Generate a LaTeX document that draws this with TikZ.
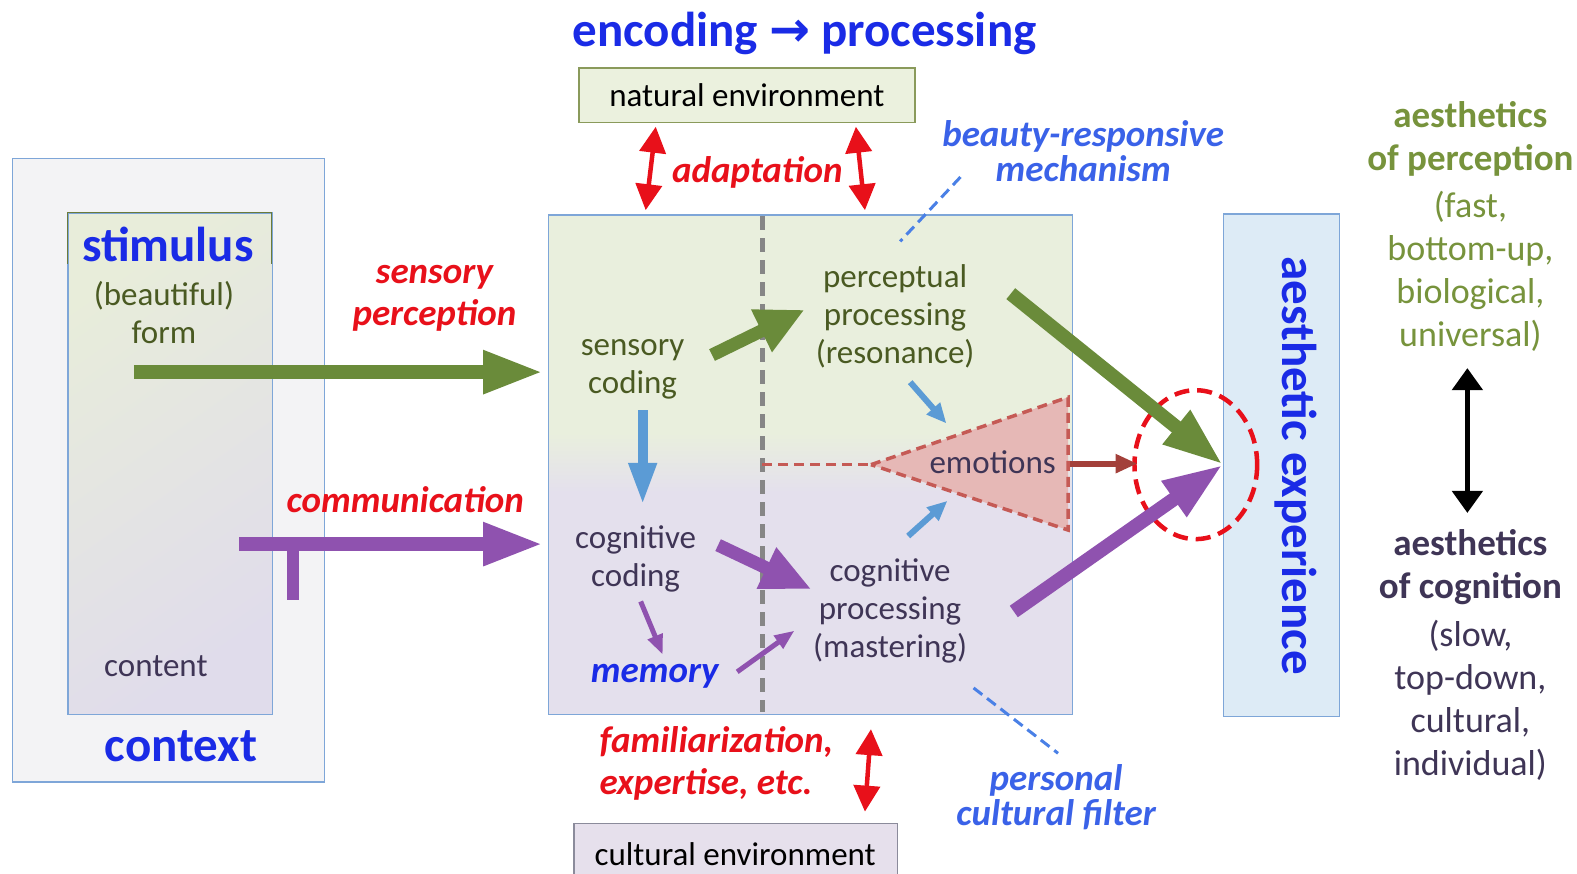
\documentclass[tikz,border=0pt]{standalone}
\usepackage{fontspec}
\setmainfont{Carlito}
\newfontfamily\arrowfont{DejaVu Sans}
\usetikzlibrary{arrows.meta}
\definecolor{ctxgray}{HTML}{F3F3F5}
\definecolor{boxblue}{HTML}{7EA6D8}
\definecolor{stimgreen}{HTML}{E8EDDA}
\definecolor{stimpurple}{HTML}{E0DCEB}
\definecolor{mgreen}{HTML}{E9EFDD}
\definecolor{mpurple}{HTML}{E4E0ED}
\definecolor{aeblue}{HTML}{DDEBF6}
\definecolor{headblue}{HTML}{1A2BE6}
\definecolor{lblue}{HTML}{3A62E8}
\definecolor{redc}{HTML}{E8101A}
\definecolor{arrgreen}{HTML}{6A8B3A}
\definecolor{arrpurple}{HTML}{8F52AF}
\definecolor{arrblue}{HTML}{5B9BD5}
\definecolor{brownr}{HTML}{A3403A}
\definecolor{txtgreen}{HTML}{4A5A22}
\definecolor{txtpurple}{HTML}{3F3556}
\definecolor{rgreen}{HTML}{77933C}
\definecolor{trifill}{HTML}{E6B8B6}
\definecolor{tridash}{HTML}{C55A55}
\definecolor{envgreenfill}{HTML}{EBF1DE}
\definecolor{envgreenline}{HTML}{8A9A5B}
\definecolor{envpurplefill}{HTML}{E6E0EC}
\definecolor{envpurpleline}{HTML}{8B8B9B}
\definecolor{stimolive}{HTML}{6B7B3A}
\definecolor{pointerblue}{HTML}{4A80E6}
\begin{document}
\begin{tikzpicture}[x=1.0057pt,y=-1.0057pt,
  tx/.style={font=\fontsize{33}{38}\selectfont, align=center, inner sep=0pt},
  lbl/.style={font=\fontsize{37}{42}\selectfont\bfseries\itshape, align=center, inner sep=0pt},
  big/.style={font=\fontsize{49}{52}\selectfont\bfseries, inner sep=0pt, text=headblue},
  side/.style={font=\fontsize{36}{43}\selectfont, align=center, inner sep=0pt},
  sideb/.style={font=\fontsize{37}{43}\selectfont\bfseries, align=center, inner sep=0pt},
  boxnode/.style={anchor=north west, inner sep=0pt, line width=1.3pt},
  fatG/.style={draw=arrgreen, line width=14pt, -{Triangle[length=60pt,width=40pt]}},
  fatP/.style={draw=arrpurple, line width=14pt, -{Triangle[length=60pt,width=40pt]}},
  midG/.style={draw=arrgreen, line width=13pt, -{Triangle[length=48pt,width=44pt]}},
  midP/.style={draw=arrpurple, line width=13pt, -{Triangle[length=50pt,width=42pt]}},
  smallB/.style={draw=arrblue, line width=6pt, -{Triangle[length=20pt,width=17pt]}},
  smallP/.style={draw=arrpurple, line width=5pt, -{Triangle[length=20pt,width=15pt]}},
  redarr/.style={draw=redc, line width=4.5pt, {Triangle[length=26pt,width=26pt]}-{Triangle[length=26pt,width=26pt]}},
  pointer/.style={draw=pointerblue, line width=3pt, dash pattern=on 11pt off 6pt}
]
\useasboundingbox (0,0) rectangle (1568,869);

% context box
\node[boxnode, draw=boxblue, fill=ctxgray, minimum width=311.8pt, minimum height=623.5pt] (context) at (12,157) {};
% stimulus box
\shade[top color=stimgreen, bottom color=stimpurple, shading angle=35] (67,211) rectangle (270,710);
\node[boxnode, draw=boxblue, minimum width=204.2pt, minimum height=501.8pt] (stim) at (67,211) {};
\draw[stimolive, line width=1.3pt] (67,262) -- (67,211) -- (270,211) -- (270,262);

\node[big] (stimulus) at (167,243) {stimulus};
\node[tx, text=txtgreen] (form) at (163,311) {(beautiful)\\form};
\node[tx, text=txtpurple] (content) at (155,662) {content};
\node[big] (contextlbl) at (180,742) {context};

% main box
\fill[mgreen] (545,213) rectangle (1066,430);
\shade[top color=mgreen, bottom color=mpurple] (545,430) rectangle (1066,490);
\fill[mpurple] (545,490) rectangle (1066,710);
\node[boxnode, draw=boxblue, minimum width=524pt, minimum height=499.8pt] (main) at (545,213) {};
\coordinate (divtop) at (758,215);
\coordinate (divbot) at (758,708);
\draw[draw=gray!95, line width=5pt, dash pattern=on 14pt off 8pt] (divtop) -- (divbot);

% emotions triangle
\coordinate (tritip) at (866,462);
\coordinate (tritop) at (1062,395);
\coordinate (tribot) at (1062,527);
\coordinate (trileft) at (758,462);
\filldraw[fill=trifill, draw=tridash, line width=3.5pt, dash pattern=on 10pt off 6pt] (tritip) -- (tritop) -- (tribot) -- cycle;
\draw[draw=tridash, line width=3.5pt, dash pattern=on 10pt off 6pt] (trileft) -- (tritip);
\node[tx, text=txtpurple] (emotions) at (987,460) {emotions};

\node[tx, text=txtgreen] (sensory) at (629,367) {sensory\\coding};
\node[tx, text=txtgreen] (percept) at (890,315) {perceptual\\processing\\(resonance)};
\node[tx, text=txtpurple] (cogcod) at (632,556) {cognitive\\coding};
\node[tx, text=txtpurple] (cogproc) at (885,607) {cognitive\\processing\\(mastering)};
\node[lbl, text=headblue] (memory) at (651,672) {memory};

% aesthetic experience
\node[boxnode, draw=boxblue, fill=aeblue, minimum width=115.7pt, minimum height=502.9pt] (ae) at (1216,212) {};
\node[big, rotate=-90] (aelbl) at (1288,463) {aesthetic experience};

% circle
\coordinate (circ) at (1189,462);
\draw[redc, line width=4.5pt, dash pattern=on 15pt off 8pt] (circ) ellipse [x radius=61, y radius=74];

% headline and environments
\node[big] (head) at (800,33) {encoding {\arrowfont\bfseries →} processing};
\node[boxnode, draw=envgreenline, fill=envgreenfill, minimum width=335.9pt, minimum height=54.3pt] (natenv) at (575,67) {};
\node[tx, text=black] (natlbl) at (natenv.center) {natural environment};
\node[boxnode, draw=envpurpleline, fill=envpurplefill, minimum width=323.8pt, minimum height=70pt] (culenv) at (570,818) {};
\node[tx, text=black] (cullbl) at (731,849) {cultural environment};

\node[lbl, text=redc] (adapt) at (753,171) {adaptation};
\node[lbl, text=redc] (sensperc) at (432,297) {sensory\\perception};
\node[lbl, text=redc] (comm) at (403,497) {communication};
\node[lbl, text=redc, align=left, anchor=north west] (famil) at (596,722) {familiarization,\\expertise, etc.};
\node[lbl, text=lblue, font=\fontsize{37}{35}\selectfont\bfseries\itshape] (beauty) at (1077,150) {beauty-responsive\\mechanism};
\node[lbl, text=lblue, font=\fontsize{37}{35}\selectfont\bfseries\itshape] (personal) at (1050,793) {personal\\cultural filter};

% right side
\node[sideb, text=rgreen] (aperc) at (1462,138) {aesthetics\\of perception};
\node[side, text=rgreen] (fast) at (1462,270) {(fast,\\bottom-up,\\biological,\\universal)};
\node[sideb, text=txtpurple] (acog) at (1462,564) {aesthetics\\of cognition};
\node[side, text=txtpurple] (slow) at (1462,696) {(slow,\\top-down,\\cultural,\\individual)};

% coordinates for connectors
\coordinate (gA) at (133,370); \coordinate (gB) at (540,370);
\coordinate (pA) at (238,541); \coordinate (pB) at (540,541);
\coordinate (tA) at (291,541); \coordinate (tB) at (291,597);
\coordinate (s1) at (708,353); \coordinate (s2) at (800,308);
\coordinate (b1) at (639,408); \coordinate (b2) at (639,502);
\coordinate (b3) at (905,380); \coordinate (b4) at (941,421);
\coordinate (b5) at (903,533); \coordinate (b6) at (942,498);
\coordinate (c1) at (714,542); \coordinate (c2) at (807,586);
\coordinate (m1) at (637,598); \coordinate (m2) at (659,651);
\coordinate (m3) at (733,668); \coordinate (m4) at (790,627);
\coordinate (G1) at (1005,292); \coordinate (G2) at (1216,462);
\coordinate (P1) at (1008,608); \coordinate (P2) at (1216,462);
\coordinate (e1) at (1064,461); \coordinate (e2) at (1131,461);
\coordinate (r1) at (652,126); \coordinate (r2) at (642,209);
\coordinate (r3) at (851,126); \coordinate (r4) at (860,209);
\coordinate (r5) at (866,725); \coordinate (r6) at (860,807);
\coordinate (k1) at (1459,366); \coordinate (k2) at (1459,510);
\coordinate (d1) at (955,176); \coordinate (d2) at (895,240);
\coordinate (d3) at (968,684); \coordinate (d4) at (1052,749);

\draw[fatG] (gA) -- (gB);
\draw[fatP] (pA) -- (pB);
\draw[draw=arrpurple, line width=12pt] (tA) -- (tB);
\draw[midG] (s1) -- (s2);
\draw[draw=arrblue, line width=10pt, -{Triangle[length=42pt,width=26pt]}] (b1) -- (b2);
\draw[smallB] (b3) -- (b4);
\draw[smallB] (b5) -- (b6);
\draw[midP] (c1) -- (c2);
\draw[smallP] (m1) -- (m2);
\draw[smallP] (m3) -- (m4);
\draw[fatG] (G1) -- (G2);
\draw[fatP] (P1) -- (P2);
\draw[draw=brownr, line width=6pt, -{Triangle[length=22pt,width=18pt]}] (e1) -- (e2);
\draw[redarr] (r1) -- (r2);
\draw[redarr] (r3) -- (r4);
\draw[redarr] (r5) -- (r6);
\draw[draw=black, line width=5pt, {Triangle[length=22pt,width=30pt]}-{Triangle[length=22pt,width=30pt]}] (k1) -- (k2);
\draw[pointer] (d1) -- (d2);
\draw[pointer] (d3) -- (d4);
\end{tikzpicture}
\end{document}
